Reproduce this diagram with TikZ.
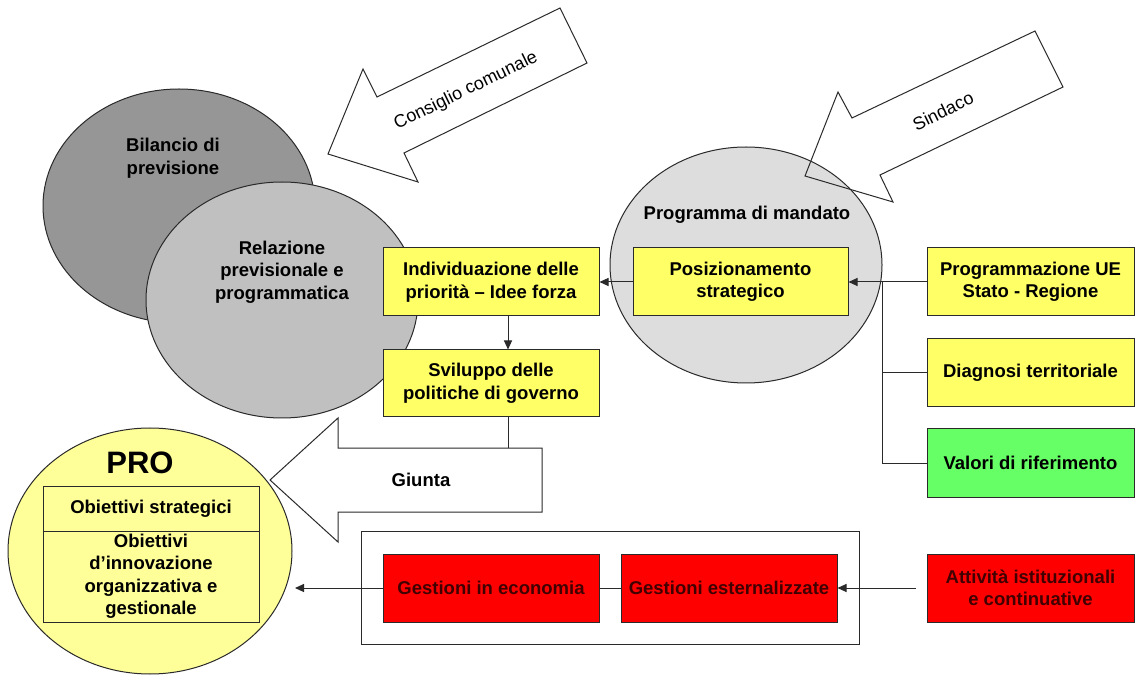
\documentclass[tikz,border=0pt]{standalone}
\usepackage{fontspec}
\setmainfont{Liberation Sans}
\usetikzlibrary{arrows.meta,shapes.geometric}
\definecolor{lc}{HTML}{2A2A2A}
\definecolor{bilgray}{HTML}{969696}
\definecolor{relgray}{HTML}{C0C0C0}
\definecolor{pmgray}{HTML}{DDDDDD}
\definecolor{proyel}{HTML}{FFFF99}
\definecolor{yel}{HTML}{FFFF66}
\definecolor{grn}{HTML}{66FF66}
\definecolor{rd}{HTML}{FF0000}
\definecolor{rdtxt}{HTML}{400000}
\begin{document}
\begin{tikzpicture}[x=1pt,y=-1pt,
  ell/.style={ellipse, draw=lc, line width=1pt, inner sep=0pt},
  box/.style={draw=lc, line width=1pt, inner sep=0pt, align=center,
    font=\fontsize{18.5}{22.5}\selectfont\bfseries, minimum height=68pt},
  lbl/.style={align=center, inner sep=0pt, font=\fontsize{18.5}{22.5}\selectfont\bfseries},
  rot/.style={inner sep=0pt, rotate=26, font=\fontsize{18}{18}\selectfont},
  arr/.style={-{Triangle[length=9pt,width=8pt]}, draw=lc, line width=1pt},
  ln/.style={draw=lc, line width=1pt},
  blk/.style={draw=lc, line width=1pt, line join=miter}
]
\useasboundingbox (0,0) rectangle (1136,676);
\fill[white] (0,0) rectangle (1136,676);

% ellipses
\node[ell, fill=bilgray, minimum width=272pt, minimum height=234pt] (bil) at (179,206) {};
\node[lbl] (biltxt) at (173,158) {Bilancio di\\previsione};
\node[ell, fill=relgray, minimum width=272pt, minimum height=236pt] (rel) at (282,300) {};
\node[lbl] (reltxt) at (282,272) {Relazione\\previsionale e\\programmatica};
\node[ell, fill=pmgray, minimum width=272pt, minimum height=236pt] (pm) at (746,265) {};
\node[lbl] (pmtxt) at (747,215) {Programma di mandato};
\node[ell, fill=proyel, minimum width=284pt, minimum height=246pt] (pro) at (150,551) {};
\node[inner sep=0pt, font=\fontsize{31}{31}\selectfont\bfseries] (protxt) at (140,463) {PRO};

% boxes
\node[box, fill=yel, minimum width=216pt] (indiv) at (491,282) {Individuazione delle\\priorità – Idee forza};
\node[box, fill=yel, minimum width=215pt] (pos) at (740.5,282) {Posizionamento\\strategico};
\node[box, fill=yel, minimum width=207pt] (prog) at (1030.5,282) {Programmazione UE\\Stato - Regione};
\node[box, fill=yel, minimum width=207pt] (diag) at (1030.5,373) {Diagnosi territoriale};
\node[box, fill=grn, minimum width=207pt] (val) at (1030.5,463) {Valori di riferimento};
\node[box, fill=yel, minimum width=216pt, minimum height=67pt] (svil) at (491,383.5) {Sviluppo delle\\politiche di governo};

\node[draw=lc, line width=1pt, inner sep=0pt, minimum width=498pt, minimum height=113pt] (frame) at (610,587.5) {};
\node[box, fill=rd, text=rdtxt, minimum width=216pt] (eco) at (491,588) {Gestioni in economia};
\node[box, fill=rd, text=rdtxt, minimum width=216pt] (est) at (729,588) {Gestioni esternalizzate};
\node[box, fill=rd, text=rdtxt, minimum width=207pt] (att) at (1030.5,588) {Attività istituzionali\\e continuative};

\node[box, fill=proyel, minimum width=216pt, minimum height=45pt] (obs) at (151,508.5) {Obiettivi strategici};
\node[box, fill=proyel, minimum width=216pt, minimum height=91pt] (obi) at (151,576.5) {Obiettivi\\d’innovazione\\organizzativa e\\gestionale};

% block arrows
\draw[blk] (328,154) -- (363,69) -- (377,97) -- (560,8) -- (587,63) -- (404,153) -- (418,182) -- cycle;
\node[rot] (cons) at (466,91) {Consiglio comunale};
\draw[blk] (805,176) -- (838,92) -- (852,118) -- (1035,31) -- (1063,87) -- (880,175) -- (893,202) -- cycle;
\node[rot] (sind) at (943,111) {Sindaco};
\draw[blk] (270,480) -- (338,418) -- (338,448) -- (542,448) -- (542,512) -- (338,512) -- (338,542) -- cycle;
\node[lbl] (giunta) at (421,480) {Giunta};

% connectors
\coordinate (vx) at (508,0);
\coordinate (gtop) at (508,448);
\coordinate (jn) at (882,282);
\coordinate (proin) at (295,588);
\draw[arr] (indiv.south -| vx) -- (svil.north -| vx);
\draw[ln] (svil.south -| vx) -- (gtop);
\draw[arr] (pos.west) -- (indiv.east);
\draw[arr] (prog.west) -- (pos.east);
\draw[ln] (val.west) -| (jn);
\draw[ln] (diag.west) -- (diag.west -| jn);
\draw[arr, shorten <=11pt] (att.west) -- (est.east);
\draw[ln] (est.west) -- (eco.east);
\draw[arr] (eco.west) -- (proin);
\end{tikzpicture}
\end{document}
